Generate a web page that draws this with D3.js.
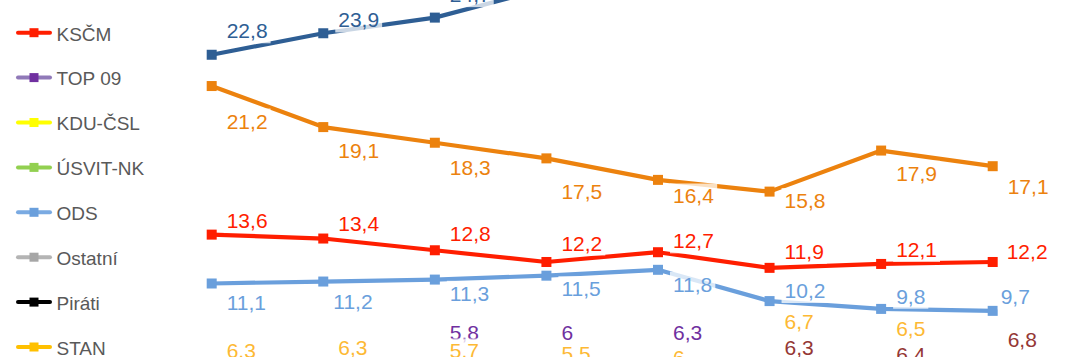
<!DOCTYPE html>
<html>
<head>
<meta charset="utf-8">
<script src="https://cdn.jsdelivr.net/npm/d3@7"></script>
<style>
  html, body { margin: 0; padding: 0; background: #ffffff; }
  svg { display: block; }
</style>
</head>
<body>
<svg id="chart" width="1070" height="357"></svg>
<script>
// ---------- DATA ----------
const categories = ["1", "2", "3", "4", "5", "6", "7", "8"];

const valuesANO    = [22.8, 23.9, 24.7, 26.2, null, null, null, null];
const valuesCSSD   = [21.2, 19.1, 18.3, 17.5, 16.4, 15.8, 17.9, 17.1];
const valuesKSCM   = [13.6, 13.4, 12.8, 12.2, 12.7, 11.9, 12.1, 12.2];
const valuesODS    = [11.1, 11.2, 11.3, 11.5, 11.8, 10.2, 9.8, 9.7];
const valuesTOP09  = [null, null, 5.8, 6, 6.3, null, null, null];
const valuesSTAN   = [6.3, 6.3, 5.7, 5.5, 6, 6.7, 6.5, null];
const valuesSPD    = [null, null, null, null, null, 6.3, 6.4, 6.8];
const valuesKDU    = [null, null, null, null, null, null, null, null];
const valuesUSVIT  = [null, null, null, null, null, null, null, null];
const valuesOST    = [null, null, null, null, null, null, null, null];
const valuesPIR    = [null, null, null, null, null, null, null, null];

const legendNames = ["KSČM", "TOP 09", "KDU-ČSL", "ÚSVIT-NK", "ODS", "Ostatní", "Piráti", "STAN"];

// ---------- STYLE / LAYOUT ----------
const colors = {
  "ANO": "#2E5E94", "ČSSD": "#EC820E", "KSČM": "#FF1E00", "TOP 09": "#7030A0",
  "KDU-ČSL": "#FFFF00", "ÚSVIT-NK": "#92D050", "ODS": "#6A9FDC", "Ostatní": "#A6A6A6",
  "Piráti": "#000000", "STAN": "#FFC000", "SPD": "#953735"
};
const labelColors = Object.assign({}, colors, { "STAN": "#FDB934" });
const legendLineColors = Object.assign({}, colors, { "TOP 09": "#9079B8", "ODS": "#7AAAE2", "Ostatní": "#B4B4B4" });

// vertical offset of each label's cap-centre from its point (px)
const labelDy = {
  "ANO":    [-24, -13.3, -23, -20, -20, -20, -20, -20],
  "ČSSD":   [35, 23.4, 24.8, 33.4, 16.1, 8.9, 22.7, 20.5],
  "KSČM":   [-14.1, -15.2, -16.3, -19, -11.4, -16.6, -14.5, -10.7],
  "ODS":    [19, 20.2, 13.7, 13, 14.2, -10.6, -12.7, -13.9],
  "TOP 09": [0, 0, -54.6, -51.2, -44.8, 0, 0, 0],
  "STAN":   [-27.3, -29.8, -38.1, -39, -26.2, -47.8, -45.4, 0],
  "SPD":    [0, 0, 0, 0, 0, -29.8, -20.4, -27.6]
};
const labelDxDefault = 15;
const labelDxOverride = { "ODS": { 1: 10, 7: 8 }, "KSČM": { 7: 14 } };

const seriesValues = {
  "ANO": valuesANO, "ČSSD": valuesCSSD, "KSČM": valuesKSCM, "TOP 09": valuesTOP09,
  "KDU-ČSL": valuesKDU, "ÚSVIT-NK": valuesUSVIT, "ODS": valuesODS, "Ostatní": valuesOST,
  "Piráti": valuesPIR, "STAN": valuesSTAN, "SPD": valuesSPD
};
const drawOrder = ["SPD", "STAN", "Piráti", "Ostatní", "ODS", "ÚSVIT-NK", "KDU-ČSL", "TOP 09", "KSČM", "ČSSD", "ANO"];

const FONT = "'Liberation Sans', Arial, sans-serif";
const LABEL_SIZE = 21;
const LEGEND_SIZE = 19;

// ---------- SCALES ----------
const svg = d3.select("#chart");
const x = d3.scalePoint().domain(categories).range([211.7, 992.7]);
const y = d3.scaleLinear().domain([0, 30]).range([500.5, 500.5 - 30 * 19.55]);

const plot = svg.append("g");

const line = d3.line()
  .defined(d => d.v != null)
  .x(d => x(d.c))
  .y(d => y(d.v));

drawOrder.forEach(name => {
  const data = categories.map((c, i) => ({ c, v: seriesValues[name][i], i }));
  plot.append("path")
    .datum(data)
    .attr("fill", "none")
    .attr("stroke", colors[name])
    .attr("stroke-width", 4.2)
    .attr("stroke-linejoin", "round")
    .attr("d", line);
  plot.selectAll(null)
    .data(data.filter(d => d.v != null))
    .enter().append("rect")
    .attr("x", d => x(d.c) - 5)
    .attr("y", d => y(d.v) - 5)
    .attr("width", 10)
    .attr("height", 10)
    .attr("fill", colors[name]);
});

// ---------- DATA LABELS ----------
const labelLayer = svg.append("g");
drawOrder.slice().reverse().forEach(name => {
  const vals = seriesValues[name];
  vals.forEach((v, i) => {
    if (v == null) return;
    const dyArr = labelDy[name];
    const dy = dyArr ? dyArr[i] : -20;
    const ov = labelDxOverride[name] && labelDxOverride[name][i];
    const dx = ov != null ? ov : labelDxDefault;
    const cx = x(categories[i]) + dx;
    const cy = y(v) + dy;
    const g = labelLayer.append("g");
    const t = g.append("text")
      .attr("x", cx)
      .attr("y", cy + LABEL_SIZE * 0.358)
      .attr("font-family", FONT)
      .attr("font-size", LABEL_SIZE)
      .attr("fill", labelColors[name])
      .text(String(v).replace(".", ","));
    const bb = t.node().getBBox();
    g.insert("rect", "text")
      .attr("x", bb.x - 3)
      .attr("y", bb.y - 1)
      .attr("width", bb.width + 6)
      .attr("height", bb.height + 2)
      .attr("fill", "#ffffff")
      .attr("fill-opacity", 0.75);
  });
});

// ---------- LEGEND ----------
const legendTop = 32.7;
const legend = svg.append("g");
legendNames.forEach((name, i) => {
  const ry = legendTop + i * 44.9;
  const g = legend.append("g");
  g.append("line")
    .attr("x1", 18).attr("x2", 50)
    .attr("y1", ry).attr("y2", ry)
    .attr("stroke", legendLineColors[name])
    .attr("stroke-width", 4)
    .attr("stroke-linecap", "round");
  g.append("rect")
    .attr("x", 29.5).attr("y", ry - 4.5)
    .attr("width", 9).attr("height", 9)
    .attr("fill", colors[name]);
  g.append("text")
    .attr("x", 56.5)
    .attr("y", ry + 7.8)
    .attr("font-family", FONT)
    .attr("font-size", LEGEND_SIZE)
    .attr("fill", "#595959")
    .text(name);
});
</script>
</body>
</html>
